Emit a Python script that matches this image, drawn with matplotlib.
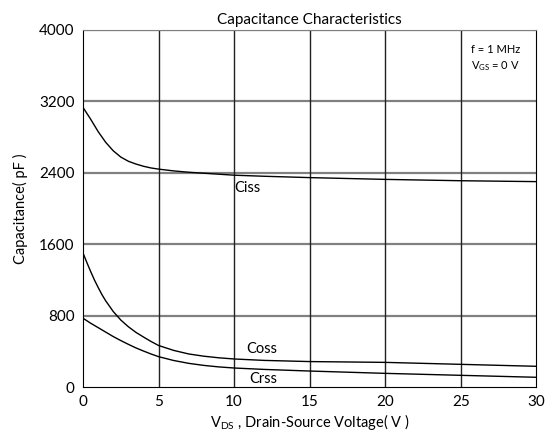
import matplotlib
matplotlib.use("Agg")
import matplotlib.pyplot as plt

plt.rcParams['font.family'] = ['Lato', 'DejaVu Sans']
plt.rcParams['mathtext.fontset'] = 'custom'
plt.rcParams['mathtext.rm'] = 'Lato'

ciss_x = [0, 0.5, 1, 1.5, 2, 2.5, 3, 3.5, 4, 4.5, 5, 6, 7, 8, 10, 12, 15, 20, 25, 30]
ciss_y = [3130, 3000, 2860, 2740, 2645, 2575, 2528, 2497, 2472, 2453, 2440, 2420, 2405, 2394, 2372, 2360, 2345, 2325, 2310, 2300]
coss_x = [0, 0.25, 0.5, 0.75, 1, 1.25, 1.5, 2, 2.5, 3, 3.5, 4, 4.5, 5, 6, 7, 8, 9, 10, 12, 15, 20, 25, 30]
coss_y = [1500, 1395, 1295, 1200, 1115, 1035, 965, 845, 750, 675, 612, 560, 510, 465, 410, 370, 345, 327, 314, 298, 285, 276, 254, 232]
crss_x = [0, 0.5, 1, 1.5, 2, 2.5, 3, 3.5, 4, 4.5, 5, 6, 7, 8, 9, 10, 12, 15, 20, 25, 30]
crss_y = [770, 715, 665, 615, 565, 520, 478, 438, 403, 370, 340, 297, 265, 242, 225, 213, 197, 179, 153, 131, 109]

xticks = [0, 5, 10, 15, 20, 25, 30]
yticks = [0, 800, 1600, 2400, 3200, 4000]

fig = plt.figure(figsize=(5.5, 4.41), dpi=100)
ax = fig.add_axes([0.151, 0.1224, 0.824, 0.81])

for yv in yticks[1:]:
    ax.axhline(yv, color='#808080', lw=1.6, zorder=1)
for xv in xticks[1:-1]:
    ax.axvline(xv, color='#222222', lw=1.0, zorder=1)

ax.plot(ciss_x, ciss_y, color='black', lw=1.0, zorder=3)
ax.plot(coss_x, coss_y, color='black', lw=1.0, zorder=3)
ax.plot(crss_x, crss_y, color='black', lw=1.0, zorder=3)

ax.text(10.9, 2230, 'Ciss', fontsize=10.5, ha='center', va='center')
ax.text(11.8, 430, 'Coss', fontsize=10.5, ha='center', va='center')
ax.text(11.9, 85, 'Crss', fontsize=10.5, ha='center', va='center')

ax.text(25.7, 3780, 'f = 1 MHz', fontsize=8, ha='left', va='center')
ax.text(25.7, 3590, r'V$_{\mathregular{GS}}$ = 0 V', fontsize=8, ha='left', va='center')

ax.set_xlim(0, 30)
ax.set_ylim(0, 4000)
ax.set_xticks(xticks)
ax.set_yticks(yticks)
ax.tick_params(length=0, labelsize=11, pad=6)
for s in ['left', 'bottom', 'right']:
    ax.spines[s].set_color('black')
ax.spines['top'].set_color('#808080')

ax.set_title('Capacitance Characteristics', fontsize=11, pad=4)
ax.set_xlabel(r'V$_{\mathregular{DS}}$ , Drain-Source Voltage( V )', fontsize=10.5, labelpad=2)
ax.set_ylabel('Capacitance( pF )', fontsize=10.5, labelpad=8)

fig.savefig('out.png', dpi=100)
